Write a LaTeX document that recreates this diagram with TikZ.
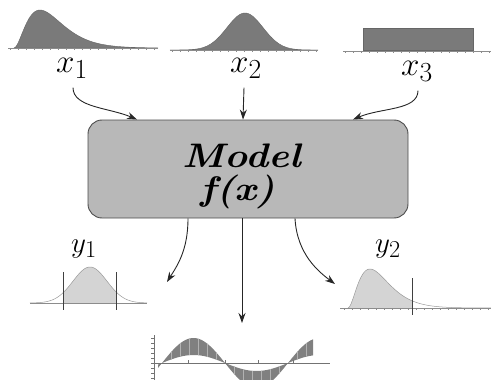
\documentclass[tikz,border=0pt]{standalone}
\usetikzlibrary{arrows.meta,calc}
\begin{document}
\begin{tikzpicture}[x=1pt,y=-1pt,
  declare function={gam(\t)=(\t)*(\t)*exp(2*(1-(\t)));
                    gau(\t)=exp(-(\t)*(\t)/2);
                    sband(\t)=sin(((\t)-162)*2.857);},
  conn/.style={line width=0.9pt, draw=black!85, -{Stealth[length=10pt,width=7pt]}},
  baseln/.style={draw=black!45, line width=0.6pt},
  darkdist/.style={fill=black!52, draw=black!60, line width=0.4pt},
  lightdist/.style={fill=black!17},
  distline/.style={draw=black!40, line width=0.5pt},
  cutline/.style={draw=black!75, line width=0.9pt},
  axisln/.style={draw=black!55, line width=0.7pt},
  lbl/.style={inner sep=0pt, anchor=base, font=\Huge},
  modelbox/.style={draw=black!70, line width=0.9pt, fill=black!28, rounded corners=14pt,
                   minimum width=320pt, minimum height=98pt, inner sep=0pt},
  mtext/.style={inner sep=0pt, anchor=base, font=\fontsize{34}{34}\selectfont\bfseries\itshape}]
\useasboundingbox (0,0) rectangle (491,380);

% ---------- top input distributions ----------
\fill[darkdist] (14,48) -- plot[domain=14:158,samples=90] (\x,{48-38*gam((\x-14)/26)}) -- (158,48) -- cycle;
\draw[baseln] (8,48) -- (158,48);
\foreach \t in {10,18,...,158} \draw[baseln] (\t,48) -- (\t,50);

\fill[darkdist] (170,50) -- plot[domain=170:318,samples=90] (\x,{50-37*gau((\x-245)/18)}) -- (318,50) -- cycle;
\draw[baseln] (170,50) -- (318,50);
\foreach \t in {172,180,...,318} \draw[baseln] (\t,50) -- (\t,52);

\fill[darkdist] (363,28) rectangle (473,50);
\draw[baseln] (343,51) -- (491,51);
\foreach \t in {345,353,...,491} \draw[baseln] (\t,51) -- (\t,53);

% ---------- labels ----------
\node[lbl] (x1) at (72,72) {\scalebox{1.33}{$x_1$}};
\node[lbl] (x2) at (246,72) {\scalebox{1.33}{$x_2$}};
\node[lbl] (x3) at (417,75) {\scalebox{1.33}{$x_3$}};

% ---------- model ----------
\node[modelbox] (model) at (248,169) {};
\node[mtext] (mname) at (241.5,167) {\scalebox{1.15}[1]{Model}};
\node[mtext] (mfun) at (238,200) {\scalebox{1.15}[1]{f(x)}};

% ---------- input arrows ----------
\draw[conn] ([xshift=1pt,yshift=-9pt]x1.south) .. controls +(0,20) and +(-28,-12) .. ([xshift=-111pt]model.north);
\draw[conn] ([xshift=-2pt,yshift=-9pt]x2.south) -- ([xshift=-5pt]model.north);
\draw[conn] ([xshift=1pt,yshift=-9pt]x3.south) .. controls +(0,20) and +(28,-12) .. ([xshift=105pt]model.north);

% ---------- output distributions ----------
\fill[lightdist] (63,303) -- plot[domain=63:116,samples=40] (\x,{303-36*gau((\x-90)/17)}) -- (116,303) -- cycle;
\draw[distline] plot[domain=30:147,samples=90] (\x,{303-36*gau((\x-90)/17)});
\draw[baseln] (30,303) -- (147,303);
\draw[cutline] (63,272) -- (63,310);
\draw[cutline] (116,272) -- (116,310);
\node[lbl] (y1) at (84,252) {\scalebox{1.17}{$y_1$}};

\fill[lightdist] (348,308) -- plot[domain=348:412,samples=50] (\x,{308-39*gam((\x-348)/22)}) -- (412,308) -- cycle;
\draw[distline] plot[domain=348:491,samples=90] (\x,{308-39*gam((\x-348)/22)});
\draw[baseln] (340,308) -- (491,308);
\foreach \t in {344,352,...,491} \draw[baseln] (\t,308) -- (\t,310);
\draw[cutline] (412,278) -- (412,315);
\node[lbl] (y2) at (388,252) {\scalebox{1.17}{$y_2$}};

% ---------- sine band ----------
\begin{scope}
  \clip plot[domain=158:313,samples=70] (\x,{363-25*sband(\x)}) -- plot[domain=313:158,samples=70] (\x,{363-8*sband(\x)}) -- cycle;
  \fill[black!50] (150,320) rectangle (335,395);
  \foreach \t in {162,171,...,315} \draw[black!30,line width=0.6pt] (\t,320) -- (\t,395);
\end{scope}
\draw[axisln] (154,335) -- (154,382);
\draw[axisln] (154,363) -- (330,363);
\foreach \t in {338,343,...,380} \draw[axisln,line width=0.4pt] (151,\t) -- (154,\t);
\foreach \t in {188,225,258,293} \draw[axisln,line width=0.5pt] (\t,363) -- (\t,360);

% ---------- output arrows ----------
\coordinate (o1) at (167,282);
\coordinate (o2) at (242,323);
\coordinate (o3) at (335,284);
\draw[conn] ([xshift=-60pt]model.south) .. controls +(0,32) and +(10,-16) .. (o1);
\draw[conn] ([xshift=-6pt]model.south) -- (o2);
\draw[conn] ([xshift=47pt]model.south) .. controls +(2,36) and +(-16,-12) .. (o3);
\end{tikzpicture}
\end{document}
